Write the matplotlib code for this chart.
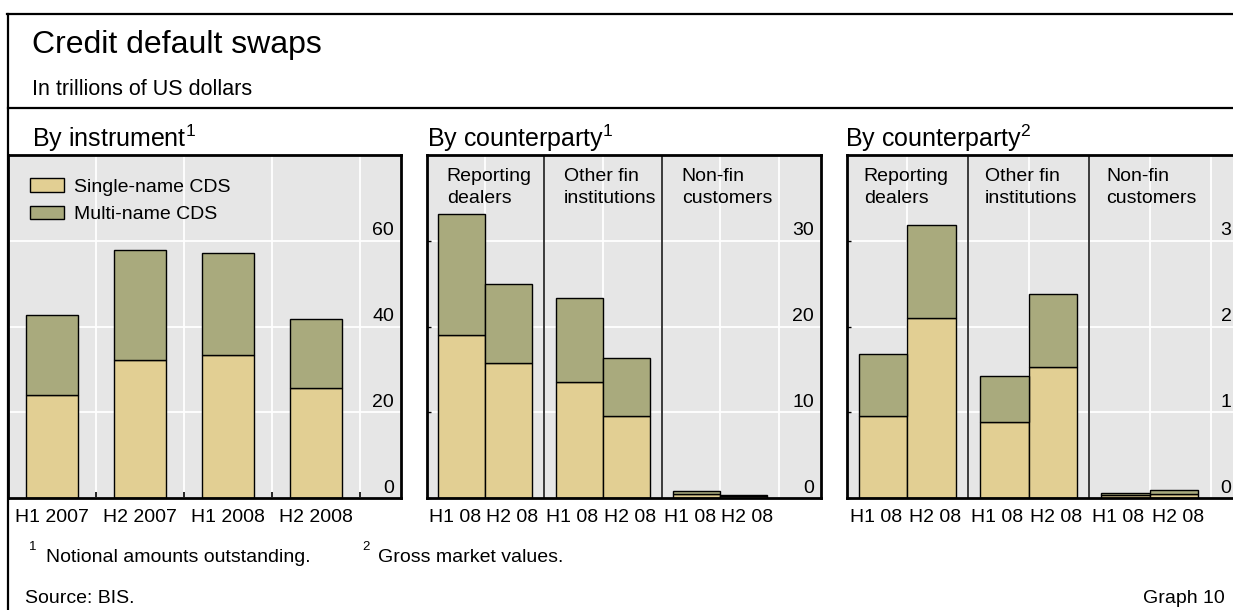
import matplotlib
matplotlib.use('Agg')
import matplotlib.pyplot as plt
from matplotlib.transforms import blended_transform_factory, offset_copy
from matplotlib.lines import Line2D

plt.rcParams['font.family'] = ['Liberation Sans', 'DejaVu Sans']
plt.rcParams['mathtext.fontset'] = 'custom'
plt.rcParams['mathtext.rm'] = 'Liberation Sans'

# ---------------- data ----------------
instr_periods = ['H1 2007', 'H2 2007', 'H1 2008', 'H2 2008']
instr_single = [24.1, 32.2, 33.3, 25.7]
instr_multi = [18.5, 25.7, 23.9, 16.1]

cp_groups = ['Reporting\ndealers', 'Other fin\ninstitutions', 'Non-fin\ncustomers']
half_years = ['H1 08', 'H2 08']
# notional amounts by counterparty, [H1 08, H2 08] per group
notional_single = [[19.0, 15.8], [13.6, 9.6], [0.45, 0.23]]
notional_multi = [[14.1, 9.2], [9.7, 6.7], [0.45, 0.19]]
# gross market values by counterparty, [H1 08, H2 08] per group
gmv_single = [[0.96, 2.10], [0.89, 1.53], [0.035, 0.047]]
gmv_multi = [[0.72, 1.08], [0.54, 0.85], [0.027, 0.046]]

series_names = ['Single-name CDS', 'Multi-name CDS']
instr_yticks = [0, 20, 40, 60]
notional_yticks = [0, 10, 20, 30]
gmv_yticks = [0, 1, 2, 3]

# ---------------- style ----------------
C_SINGLE = '#E2CF93'
C_MULTI = '#A9AA7D'
C_BG = '#E6E6E6'
W, H = 1233, 610
SMALL = 14

fig = plt.figure(figsize=(W / 100, H / 100), dpi=100)


def fx(x):
    return x / W


def fy(y):
    return 1 - y / H


def add_axes(left, right, top=155.0, bottom=498.3):
    ax = fig.add_axes([fx(left), fy(bottom), (right - left) / W, (bottom - top) / H])
    ax.set_facecolor(C_BG)
    for s in ax.spines.values():
        s.set_linewidth(2.0)
        s.set_color('black')
        s.set_zorder(6)
    return ax, right - left


def ylabels(ax, wpx, ticks, right_px=7):
    trans = blended_transform_factory(ax.transAxes, ax.transData)
    trans = offset_copy(trans, fig=fig, y=5.5, units='dots')
    for v in ticks:
        ax.text(1 - right_px / wpx, v, str(v), transform=trans, ha='right',
                va='baseline', fontsize=SMALL, zorder=7, clip_on=False)


def common_y(ax, ticks, ymax):
    ax.set_ylim(0, ymax)
    ax.set_yticks(ticks)
    ax.set_yticklabels([])
    ax.grid(axis='y', which='major', color='white', lw=1.3, zorder=0)
    ax.set_axisbelow(True)


# ---------------- frame lines ----------------
fig.add_artist(Line2D([fx(8), fx(8)], [fy(14), fy(640)], color='black', lw=1.6))
fig.add_artist(Line2D([fx(7.4), fx(1300)], [fy(14), fy(14)], color='black', lw=1.6))
fig.add_artist(Line2D([fx(8), fx(1300)], [fy(108.3), fy(108.3)], color='black', lw=1.6))

# ---------------- titles ----------------
fig.text(fx(32), fy(53.3), 'Credit default swaps', fontsize=23, va='baseline')
fig.text(fx(32), fy(95), 'In trillions of US dollars', fontsize=15.5, va='baseline')
panel_titles = [(32, r'By instrument$^{\mathregular{1}}$'),
                (427, r'By counterparty$^{\mathregular{1}}$'),
                (845, r'By counterparty$^{\mathregular{2}}$')]
for x, t in panel_titles:
    fig.text(fx(x), fy(146.7), t, fontsize=18, va='baseline')

# ---------------- panel 1: by instrument ----------------
ax1, w1 = add_axes(8, 401)
x1 = list(range(len(instr_periods)))
b1 = ax1.bar(x1, instr_single, width=0.6, color=C_SINGLE, edgecolor='black', lw=1.0, zorder=3)
b2 = ax1.bar(x1, instr_multi, width=0.6, bottom=instr_single, color=C_MULTI,
             edgecolor='black', lw=1.0, zorder=3)
ax1.set_xlim(-0.5, -0.5 + w1 / 88.0)
common_y(ax1, instr_yticks, 80)
ax1.set_xticks(x1)
ax1.set_xticklabels(instr_periods, fontsize=SMALL)
ax1.set_xticks([i + 0.5 for i in x1], minor=True)
ax1.grid(axis='x', which='minor', color='white', lw=1.3, zorder=0)
ax1.tick_params(axis='x', which='major', length=0, pad=8)
ax1.tick_params(axis='x', which='minor', direction='in', length=4, width=1.2, color='black')
ax1.tick_params(axis='y', length=0)
ylabels(ax1, w1, instr_yticks)
ax1.legend([b1, b2], series_names, loc='upper left',
           bbox_to_anchor=((30 - 8) / w1, (498.3 - 178.5) / 343.3),
           frameon=False, fontsize=SMALL, handlelength=1.75, handleheight=0.67,
           handletextpad=0.5, labelspacing=0.5, borderaxespad=0, borderpad=0)


# ---------------- panels 2 and 3: by counterparty ----------------
def counterparty_panel(left, right, unit, single, multi, ticks, ymax, label_pad,
                       right_px=7):
    ax, wpx = add_axes(left, right)
    xs, singles, multis, lab_x, labels = [], [], [], [], []
    for g in range(len(cp_groups)):
        for h in range(len(half_years)):
            xs.append(g - 0.2 + 0.4 * h)
            lab_x.append(g - 0.26 + 0.49 * h)
            singles.append(single[g][h])
            multis.append(multi[g][h])
            labels.append(half_years[h])
    ax.bar(xs, singles, width=0.4, color=C_SINGLE, edgecolor='black', lw=1.0, zorder=3)
    ax.bar(xs, multis, width=0.4, bottom=singles, color=C_MULTI, edgecolor='black',
           lw=1.0, zorder=3)
    ax.set_xlim(-0.5, -0.5 + wpx / unit)
    common_y(ax, ticks, ymax)
    ax.set_xticks(lab_x)
    ax.set_xticklabels(labels, fontsize=SMALL)
    ax.set_xticks([0, 0.5, 1, 1.5, 2, 2.5], minor=True)
    ax.grid(axis='x', which='minor', color='white', lw=1.3, zorder=0)
    ax.tick_params(axis='x', which='both', length=0, pad=8)
    ax.tick_params(axis='y', direction='in', length=3, width=1.0, color='black')
    for g in range(1, len(cp_groups)):
        ax.axvline(g - 0.5, color='#3a3a3a', lw=1.4, zorder=2.5)
    tr = blended_transform_factory(ax.transData, ax.transAxes)
    for g, name in enumerate(cp_groups):
        ax.text(g - 0.5 + label_pad, (498.3 - 168.5) / 343.3, name, transform=tr,
                fontsize=SMALL, ha='left', va='top', linespacing=1.32, zorder=7)
    ylabels(ax, wpx, ticks, right_px)
    return ax


counterparty_panel(426.7, 821, 117.5, notional_single, notional_multi,
                   notional_yticks, 40, 0.17)
counterparty_panel(846.7, 1244, 121.3, gmv_single, gmv_multi,
                   gmv_yticks, 4, 0.14, right_px=12.5)

# ---------------- footnotes ----------------
fig.text(fx(29), fy(550), '1', fontsize=9.5, va='baseline')
fig.text(fx(45.7), fy(562), 'Notional amounts outstanding.', fontsize=SMALL, va='baseline')
fig.text(fx(362), fy(550), '2', fontsize=9.5, va='baseline')
fig.text(fx(378), fy(562), 'Gross market values.', fontsize=SMALL, va='baseline')
fig.text(fx(25), fy(603), 'Source: BIS.', fontsize=SMALL, va='baseline')
fig.text(fx(1225), fy(603), 'Graph 10', fontsize=SMALL, va='baseline', ha='right')

fig.savefig('out.png', dpi=100)
